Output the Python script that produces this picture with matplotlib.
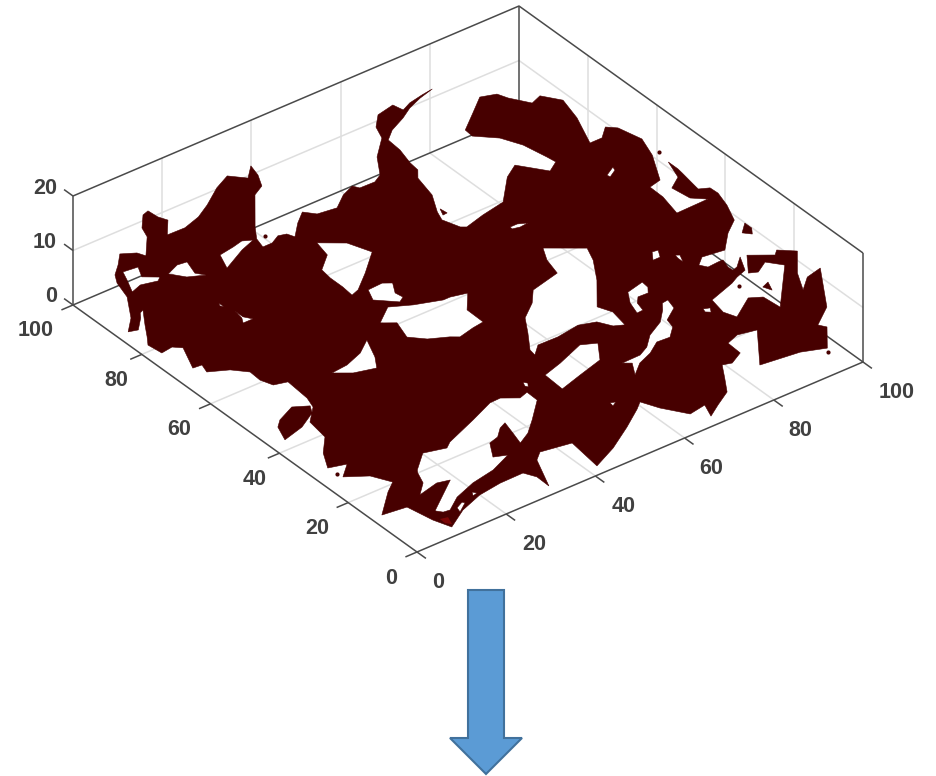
#!/usr/bin/env python3
import numpy as np
import matplotlib
matplotlib.use("Agg")
import matplotlib.pyplot as plt
from matplotlib.path import Path
from matplotlib.patches import PathPatch, FancyArrow

### values, in axis units ###
x_ticks = [0, 20, 40, 60, 80, 100]
y_ticks = [0, 20, 40, 60, 80, 100]
z_ticks = [0, 10, 20]

outer_x = [2.5, 5.6, 9.2, 10.5, 11.8, 14.2, 16.6, 19.2, 19.9, 23.8, 24.8, 27.5, 29.0, 29.2, 30.0, 27.0, 30.9, 34.9, 38.5, 43.2,
           47.0, 49.5, 52.3, 51.5, 49.9, 47.2, 40.9, 38.8, 38.1, 40.2, 42.4, 44.0, 44.6, 47.7, 50.5, 52.2, 56.2, 59.6, 62.6, 63.3,
           66.6, 68.7, 71.8, 76.2, 77.5, 80.2, 84.2, 84.7, 87.0, 90.3, 92.9, 89.4, 86.0, 83.1, 79.2, 76.7, 76.4, 75.3, 75.0, 73.4,
           72.1, 69.5, 68.6, 69.8, 70.7, 75.3, 80.7, 86.2, 89.6, 93.4, 96.0, 95.7, 94.7, 92.8, 89.3, 89.5, 93.9, 98.0, 101.0, 101.8,
           104.2, 106.7, 109.1, 107.6, 104.5, 107.2, 109.8, 111.4, 112.6, 110.9, 107.1, 104.3, 104.2, 103.0, 110.1, 107.8, 107.2, 110.2, 111.8, 111.8,
           111.6, 110.7, 112.6, 112.7, 111.6, 109.7, 106.3, 102.5, 99.9, 97.9, 95.9, 96.8, 99.2, 100.3, 99.6, 99.7, 100.9, 103.3, 101.4, 98.9,
           97.0, 90.9, 90.1, 91.1, 96.4, 98.7, 99.1, 108.0, 105.8, 102.9, 101.3, 104.6, 108.6, 109.8, 112.5, 108.2, 105.7, 108.8, 112.4, 105.7,
           100.9, 101.8, 97.7, 93.1, 84.9, 91.4, 87.6, 84.7, 84.5, 81.4, 79.6, 77.4, 75.0, 71.2, 68.0, 69.3, 65.5, 62.4, 60.8, 59.0,
           54.0, 48.0, 42.2, 43.2, 36.9, 34.9, 31.5, 31.6, 30.4, 25.2, 20.0, 14.7, 9.8, 8.5, 7.4, 2.3, 7.7, 10.3, 8.3, 4.3,
           7.4, 3.9, 6.2, 9.6, 10.4, 13.8, 14.7, 15.2, 12.5, 11.6, 11.8, 9.4, 5.7, 6.4, 4.5, 7.1, 5.7, 3.1, 2.7, 4.2,
           6.2, 8.9, 7.9, 7.0, 4.3]
outer_y = [87.2, 90.4, 96.2, 100.8, 103.1, 105.3, 107.9, 106.3, 104.6, 109.3, 112.1, 115.3, 115.8, 113.2, 111.3, 107.6, 107.5, 108.8, 110.9, 114.2,
           116.1, 113.3, 116.1, 113.0, 109.8, 108.3, 100.1, 96.9, 94.2, 94.2, 95.4, 94.9, 93.3, 96.5, 98.8, 96.7, 96.1, 98.7, 100.0, 98.7,
           98.6, 99.8, 104.7, 109.0, 112.4, 115.3, 116.2, 113.8, 114.9, 115.6, 116.0, 115.0, 113.6, 111.8, 109.9, 107.8, 104.0, 99.6, 97.0, 94.9,
           89.1, 84.2, 81.7, 77.9, 77.2, 78.5, 79.6, 85.5, 87.7, 82.4, 84.1, 86.3, 91.9, 96.2, 99.7, 102.0, 105.5, 108.8, 107.7, 105.5,
           101.6, 102.6, 99.0, 93.0, 85.2, 85.2, 87.6, 86.0, 80.6, 75.4, 68.2, 67.5, 63.6, 58.0, 58.2, 60.4, 64.9, 67.0, 71.9, 69.1,
           67.6, 61.8, 60.8, 58.6, 54.6, 50.0, 47.4, 43.4, 43.8, 44.1, 42.4, 40.9, 41.1, 41.1, 38.7, 37.4, 37.8, 40.0, 36.1, 35.2,
           34.2, 32.1, 27.8, 25.1, 28.7, 27.3, 22.9, 33.1, 36.0, 34.2, 35.0, 39.7, 36.7, 37.8, 35.3, 29.7, 24.8, 27.6, 28.5, 17.9,
           14.3, 12.8, 7.4, 9.3, 10.4, 19.6, 20.5, 19.4, 15.6, 13.9, 14.5, 10.9, 7.1, 4.8, 2.7, 6.2, 5.5, 10.3, 14.0, 12.5,
           9.0, 5.2, 2.4, 10.9, 12.1, 10.4, 2.5, 6.1, 8.6, 8.5, 7.7, 5.7, 2.6, 6.4, 12.5, 13.2, 18.4, 20.4, 24.4, 27.1,
           29.9, 31.0, 35.3, 39.2, 44.6, 48.1, 51.0, 57.2, 58.0, 60.7, 63.8, 66.5, 68.5, 70.8, 71.0, 77.2, 78.6, 78.2, 81.7, 83.9,
           87.1, 91.2, 90.7, 89.4, 86.6]

hole_x = [
    [13.5, 16.6, 15.2, 17.7, 16.7, 13.4, 10.9, 12.5],
    [19.5, 22.5, 24.5, 23.4, 24.6, 21.5],
    [30.5, 33.9, 36.3, 38.1, 34.6, 28.9],
    [46.5, 50.7, 52.5, 47.4, 43.1, 41.2, 41.5, 41.5, 41.9, 45.6],
    [44.5, 47.8, 49.3, 47.7, 48.0, 46.6, 43.2],
    [39.7, 43.9, 47.9, 53.1, 54.6, 57.9, 54.5, 54.4, 51.8, 48.2, 46.8, 43.2, 40.7, 42.1],
    [21.6, 21.6, 22.6, 20.4, 21.2],
    [20.9, 20.9, 20.5],
    [34.5, 32.3, 30.4, 26.1, 23.1, 26.8, 31.0],
    [76.8, 78.4, 80.1, 78.2, 76.7],
    [77.3, 83.5, 82.0, 78.6, 73.4, 74.6, 73.8, 71.9, 70.4, 67.1, 62.0, 57.6, 55.2, 55.5, 58.5, 61.1, 65.0, 67.7, 74.4, 75.5],
    [100.6, 103.0, 102.7, 100.7],
    [91.9, 93.1, 92.0, 90.4],
    [94.5, 95.2, 94.3, 94.3],
    [80.6, 84.6, 84.4, 83.3, 81.1, 79.8, 79.2, 77.8, 78.8],
    [65.9, 70.0, 72.5, 75.3, 79.3, 82.0, 83.3, 84.7, 84.0, 80.7, 80.1, 77.7, 74.9, 71.8, 68.4, 65.4, 67.3],
    [87.9, 89.1, 88.4, 87.6],
    [52.7, 57.2, 63.5, 66.4, 63.4, 57.6, 52.4],
    [48.2, 48.7, 48.0, 47.7],
    [56.4, 57.4, 56.2],
    [16.1, 20.2, 24.6, 26.2, 33.8, 39.5, 41.9, 44.7, 46.8, 46.7, 42.1, 38.9, 35.9, 36.8, 37.7, 36.0, 33.9, 31.6, 29.3, 31.8,
     26.8, 21.4, 16.4, 12.9, 11.5, 10.6, 14.3, 18.8, 16.3, 11.6, 14.4, 15.6],
    [14.3, 16.1, 16.4, 13.9],
    [19.5, 20.0, 18.9],
]
hole_y = [
    [103.0, 102.6, 99.7, 97.7, 96.9, 97.8, 96.9, 100.5],
    [97.6, 98.9, 98.6, 94.9, 93.2, 94.8],
    [96.8, 97.4, 98.0, 97.0, 95.7, 92.7],
    [89.4, 86.1, 81.1, 76.5, 73.0, 72.3, 75.4, 79.0, 82.0, 85.2],
    [71.9, 72.1, 71.0, 68.2, 66.3, 65.4, 68.8],
    [62.2, 65.4, 63.2, 61.2, 61.2, 60.3, 56.1, 51.3, 50.9, 50.0, 51.1, 53.0, 55.7, 60.4],
    [81.0, 78.6, 77.0, 77.0, 78.4],
    [84.7, 83.2, 83.9],
    [59.3, 54.1, 51.1, 52.4, 54.7, 55.1, 56.7],
    [72.5, 72.5, 71.6, 71.4, 71.8],
    [63.6, 58.8, 55.1, 49.6, 42.8, 39.8, 35.2, 36.2, 39.0, 40.2, 39.4, 39.5, 37.3, 39.1, 43.6, 47.8, 50.8, 54.0, 55.7, 60.1],
    [75.2, 76.6, 75.6, 74.4],
    [50.8, 50.6, 48.6, 48.6],
    [47.5, 47.0, 44.9, 46.4],
    [43.2, 44.2, 42.3, 40.8, 40.9, 39.4, 37.0, 36.9, 40.2],
    [25.8, 25.9, 27.2, 29.9, 32.1, 34.9, 36.7, 36.9, 34.2, 31.9, 29.5, 27.2, 27.4, 25.3, 23.9, 21.4, 24.7],
    [30.8, 30.3, 29.1, 29.8],
    [31.1, 32.5, 35.0, 33.5, 29.0, 27.3, 25.7],
    [31.7, 30.9, 29.9, 30.5],
    [17.0, 16.6, 15.9],
    [20.8, 24.5, 23.2, 24.4, 27.5, 30.0, 30.1, 28.0, 28.7, 25.6, 21.1, 18.2, 16.5, 19.8, 23.3, 22.5, 20.5, 19.8, 15.9, 14.8,
     12.6, 11.5, 9.6, 7.1, 7.3, 8.5, 11.3, 14.7, 15.4, 14.2, 16.9, 20.0],
    [6.9, 7.8, 7.3, 5.5],
    [9.3, 8.5, 8.2],
]

island_x = [
    [6.6, 10.8, 13.6, 12.5, 8.3, 3.4, 4.9],
    [108.3, 110.6, 110.6, 109.5],
    [100.6, 102.3, 101.3],
    [70.5, 70.7, 69.7],
]
island_y = [
    [48.4, 50.4, 48.7, 46.7, 44.2, 42.8, 46.8],
    [45.9, 48.1, 46.1, 44.5],
    [29.9, 30.6, 28.1],
    [84.7, 82.9, 82.8],
]

dot_x = [40.6, 97.4, 97.0, 112.5, 4.0]
dot_y = [96.8, 32.7, 6.3, 75.4, 28.5]

peak_x = [9.7, 11.2, 10.4, 9.6]
peak_y = [5.9, 5.5, 3.3, 4.3]

### view of the box: pixels per axis unit ###
def proj(x, y, z=0):
    x, y, z = np.asarray(x, float), np.asarray(y, float), np.asarray(z, float)
    return 417 + 4.46 * x - 3.44 * y, 552 - 1.90 * x - 2.47 * y - 5.45 * z

def line3(ax, x, y, z, color, lw=1.1, zorder=2):
    px, py = proj(x, y, z)
    ax.plot(px, py, color=color, lw=lw, zorder=zorder, solid_capstyle='butt')

def ring(x, y, clockwise):
    px, py = proj(x, y)
    area = np.sum(px * np.roll(py, -1) - np.roll(px, -1) * py)
    if (area > 0) != clockwise:
        px, py = px[::-1], py[::-1]
    verts = list(zip(px, py)) + [(px[0], py[0])]
    codes = [Path.MOVETO] + [Path.LINETO] * (len(px) - 1) + [Path.CLOSEPOLY]
    return verts, codes

fig = plt.figure(figsize=(9.36, 7.76), dpi=100)
ax = fig.add_axes([0, 0, 1, 1])
ax.set_xlim(0, 936)
ax.set_ylim(776, 0)
ax.axis('off')

### grid on the floor and the two back walls ###
grid = '#dedede'
dark = '#4a4a4a'
for t in x_ticks[1:-1]:
    line3(ax, [t, t], [0, 100], [0, 0], grid, zorder=1)
    line3(ax, [t, t], [100, 100], [0, 20], grid, zorder=1)
for t in y_ticks[1:-1]:
    line3(ax, [0, 100], [t, t], [0, 0], grid, zorder=1)
    line3(ax, [100, 100], [t, t], [0, 20], grid, zorder=1)
line3(ax, [0, 100, 100], [100, 100, 0], [10, 10, 10], grid, zorder=1)

### box edges ###
line3(ax, [0, 100, 100], [0, 0, 100], [0, 0, 0], dark)
line3(ax, [0, 0, 100], [0, 100, 100], [0, 0, 0], dark)
line3(ax, [0, 100, 100], [100, 100, 0], [20, 20, 20], dark)
line3(ax, [0, 0], [100, 100], [0, 20], dark)
line3(ax, [100, 100], [100, 100], [0, 20], dark)
line3(ax, [100, 100], [0, 0], [0, 20], dark)

### ticks and labels ###
tick = 2.6
txt = dict(color='#404040', fontsize=15.5, fontweight='bold', family='Liberation Sans',
           ha='center', va='center', zorder=5)
x_dx = [21, 28, 28, 27, 27, 34]
for t, dx in zip(x_ticks, x_dx):
    line3(ax, [t, t], [0, -tick], [0, 0], dark)
    px, py = proj(t, 0)
    ax.text(px + dx, py + 30, str(t), **txt)
y_dx = [-26, -31, -25, -31, -25, -37]
for t, dx in zip(y_ticks, y_dx):
    line3(ax, [0, -tick], [t, t], [0, 0], dark)
    px, py = proj(0, t)
    ax.text(px + dx, py + 26, str(t), **txt)
z_dx = [-22, -28, -28]
for t, dx in zip(z_ticks, z_dx):
    line3(ax, [0, 0], [100, 100 + tick], [t, t], dark)
    px, py = proj(0, 100, t)
    ax.text(px + dx, py - 8, str(t), **txt)

### the surface: outline with holes ###
colour = '#470000'
verts, codes = ring(outer_x, outer_y, True)
for hx, hy in zip(hole_x, hole_y):
    v, c = ring(hx, hy, False)
    verts += v
    codes += c
for ix, iy in zip(island_x, island_y):
    v, c = ring(ix, iy, True)
    verts += v
    codes += c
ax.add_patch(PathPatch(Path(verts, codes), facecolor=colour, edgecolor=colour, lw=0.4, zorder=3))

px, py = proj(dot_x, dot_y)
ax.scatter(px, py, s=9, color=colour, linewidths=0, zorder=3)

px, py = proj(peak_x, peak_y)
ax.fill(px, py, color='#7a0505', lw=0, zorder=4)

### arrow below the plot ###
ax.add_patch(FancyArrow(486, 590, 0, 184, width=36, head_width=72, head_length=36,
                        length_includes_head=True, facecolor='#5b9bd5', edgecolor='#41719c',
                        lw=1.5, joinstyle='miter', zorder=3))

plt.savefig("out.png", dpi=100)
